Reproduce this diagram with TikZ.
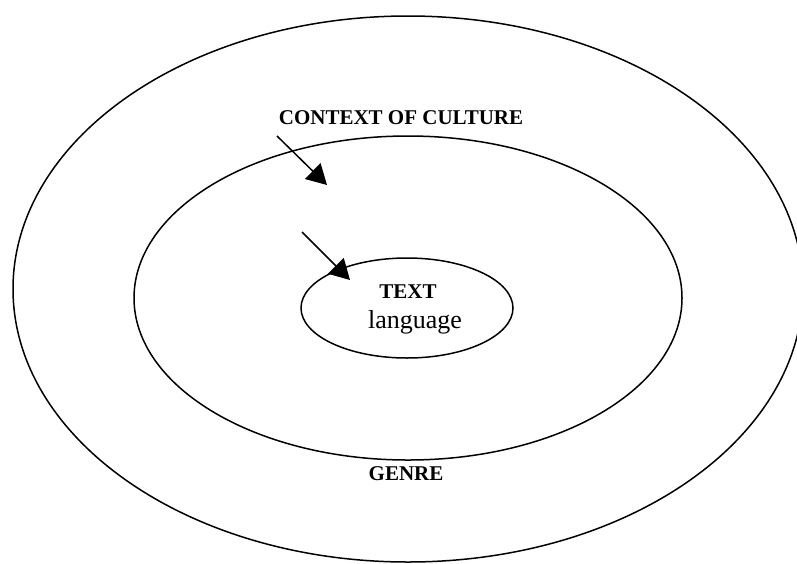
\documentclass[tikz,border=0pt]{standalone}
\usepackage{fontspec}
\setmainfont{Liberation Serif}
\usetikzlibrary{arrows.meta,shapes.geometric,positioning}

\begin{document}
\begin{tikzpicture}[x=1pt,y=-1pt,line width=1.5pt,
    ring/.style={ellipse,draw,inner sep=0pt},
    label/.style={font=\fontsize{21}{24}\selectfont\bfseries,anchor=base,inner sep=0pt},
    pointer/.style={-{Triangle[length=20pt,width=22pt]},line width=1.5pt}]
  \useasboundingbox (0,0) rectangle (797,563);
  \clip (0,0) rectangle (797,563);

  \node[ring,minimum width=790pt,minimum height=546pt] (culture) at (408,289) {};
  \node[ring,minimum width=548pt,minimum height=324pt] (genre)   at (408,298) {};
  \node[ring,minimum width=212pt,minimum height=100pt] (text)    at (407,308) {};

  \node[label] (ctxlabel)   at (401,124) {CONTEXT OF CULTURE};
  \node[label] (genrelabel) at (406,480) {GENRE};
  \node[label] (textlabel)  at (408,298) {TEXT};
  \node[anchor=base,inner sep=0pt,font=\fontsize{26}{30}\selectfont] (lang) at (415,328) {language};

  \coordinate (a1) at (277,136);
  \coordinate (b1) at (327,185);
  \coordinate (a2) at (302,232);
  \coordinate (b2) at (350,280);
  \draw[pointer] (a1) -- (b1);
  \draw[pointer] (a2) -- (b2);
\end{tikzpicture}
\end{document}
